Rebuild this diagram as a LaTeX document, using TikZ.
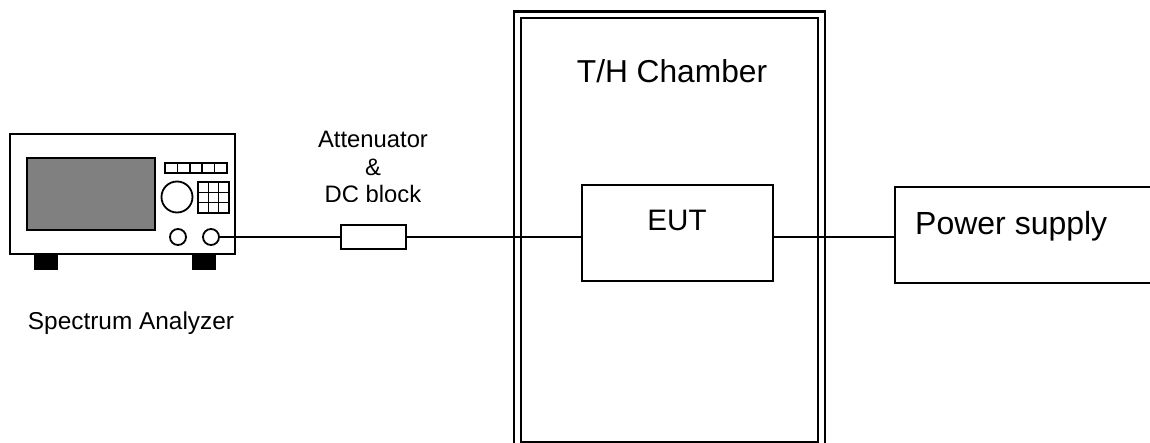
\documentclass[tikz,border=0pt]{standalone}
\usepackage{fontspec}
\setmainfont{Liberation Sans}
\begin{document}
\begin{tikzpicture}[x=1pt,y=-1pt,
  box/.style={draw,line width=1.8pt,inner sep=0pt},
  wire/.style={line width=1.6pt},
  wall/.style={line width=2.6pt},
  lbl/.style={inner sep=0pt,anchor=base}]
\useasboundingbox (0,0) rectangle (1150,443);

% spectrum analyzer
\node[box,minimum width=225pt,minimum height=120pt] (sa) at (122.5,194) {};
\node[box,fill=black!50,minimum width=128pt,minimum height=72pt] (screen) at (91,194) {};
\node[box,circle,minimum size=31pt] (knob) at (177,197) {};
\node[box,circle,minimum size=16pt] (port1) at (178,237) {};
\node[box,circle,minimum size=16pt] (port2) at (211,237) {};
\foreach \i in {0,...,4}
  \draw[line width=1.6pt] (165+\i*12.4,163) rectangle +(12.4,10);
\foreach \i in {0,1,2}
  \foreach \j in {0,1,2}
    \draw[line width=1.6pt] (198+\i*10.33,182+\j*10.33) rectangle +(10.33,10.33);
\fill (34,254) rectangle (58,270);
\fill (192,254) rectangle (216,270);
\node[lbl,font=\fontsize{24.4}{28}\selectfont] (salbl) at (131,330) {Spectrum Analyzer};

% attenuator and DC block
\node[box,minimum width=65pt,minimum height=24pt] (att) at (373.5,237) {};
\begin{scope}
  \clip (280,100) rectangle (470,201.5);
  \node[lbl,font=\fontsize{23.8}{27.5}\selectfont] (attlbl1) at (373,148) {Attenuator};
  \node[lbl,font=\fontsize{23.8}{27.5}\selectfont] (attlbl2) at (373,175.5) {\&};
  \node[lbl,font=\fontsize{23.8}{27.5}\selectfont] (attlbl3) at (373,203) {DC block};
\end{scope}

% temperature/humidity chamber
\draw[wall] (514,450) -- (514,11.5) -- (825,11.5) -- (825,450);
\draw[wall] (521,442) -- (521,18) -- (818,18) -- (818,442) -- cycle;
\node[lbl,font=\fontsize{31.7}{36}\selectfont] (chlbl) at (672,83) {T/H Chamber};

% equipment under test
\node[box,minimum width=191pt,minimum height=96pt] (eut) at (677.5,233) {};
\node[lbl,font=\fontsize{29.6}{34}\selectfont] (eutlbl) at (677,231) {EUT};

% power supply
\node[box,minimum width=270pt,minimum height=96pt] (ps) at (1030,235) {};
\node[lbl,anchor=base west,font=\fontsize{32}{36}\selectfont] (pslbl) at (915,235) {Power supply};

% connections
\draw[wire] (port2.east) -- (att.west);
\draw[wire] (att.east) -- (eut.west |- att.east);
\draw[wire] (eut.east |- 0,237) -- (ps.west |- 0,237);
\end{tikzpicture}
\end{document}
